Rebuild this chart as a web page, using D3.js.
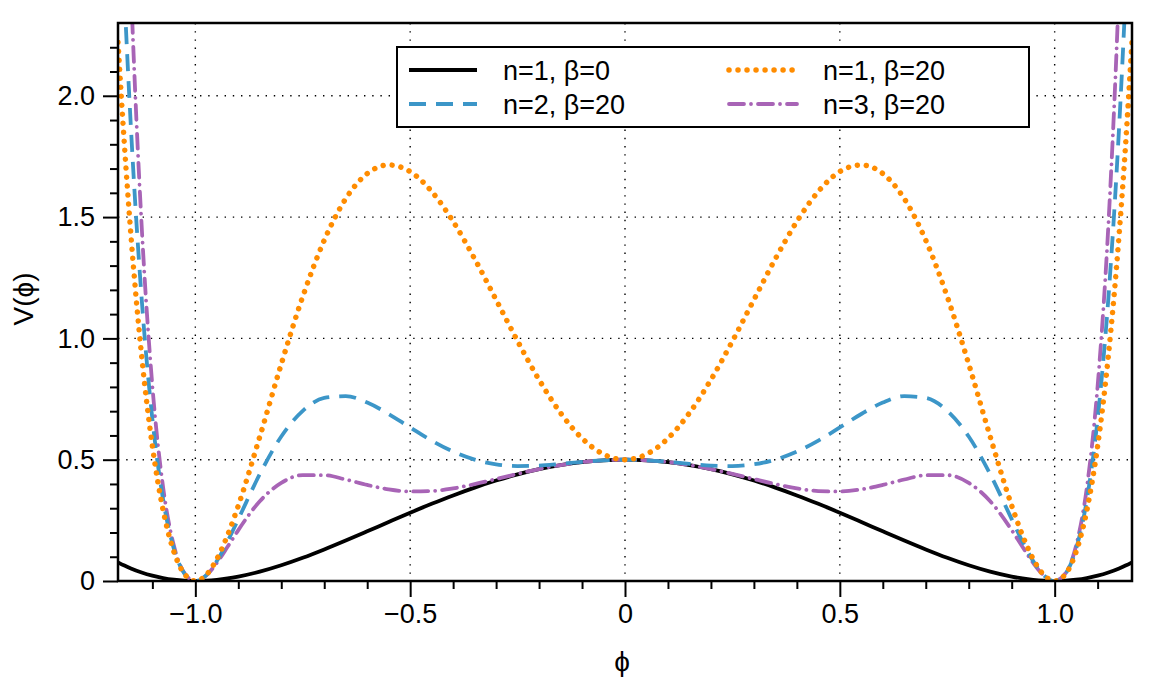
<!DOCTYPE html>
<html>
<head>
<meta charset="utf-8">
<script src="https://cdn.jsdelivr.net/npm/d3@7"></script>
<style>
  body { margin: 0; background: #fff; }
  text { font-family: "Liberation Sans", Arial, sans-serif; }
</style>
</head>
<body>
<div id="chart"></div>
<script>
// values
const phi = [-1.18, -1.165, -1.15, -1.125, -1.1, -1.075, -1.05, -1.025, -1, -0.975, -0.95, -0.925, -0.9,
  -0.85, -0.8, -0.75, -0.7, -0.65, -0.6, -0.55, -0.5, -0.45, -0.4, -0.35, -0.3, -0.25, -0.2, -0.15, -0.1, -0.05,
  0, 0.05, 0.1, 0.15, 0.2, 0.25, 0.3, 0.35, 0.4, 0.45, 0.5, 0.55, 0.6, 0.65, 0.7, 0.75, 0.8, 0.85,
  0.9, 0.925, 0.95, 0.975, 1, 1.025, 1.05, 1.075, 1.1, 1.125, 1.15, 1.165, 1.18];

const n1b0 = [0.077, 0.0638, 0.052, 0.0353, 0.0221, 0.0121, 0.0053, 0.0013, 0, 0.0012, 0.0048, 0.0104, 0.0181,
  0.0385, 0.0648, 0.0957, 0.1301, 0.1668, 0.2048, 0.2433, 0.2813, 0.318, 0.3528, 0.385, 0.4141, 0.4395, 0.4608, 0.4778, 0.4901, 0.4975,
  0.5, 0.4975, 0.4901, 0.4778, 0.4608, 0.4395, 0.4141, 0.385, 0.3528, 0.318, 0.2813, 0.2433, 0.2048, 0.1668, 0.1301, 0.0957, 0.0648, 0.0385,
  0.0181, 0.0104, 0.0048, 0.0012, 0, 0.0013, 0.0053, 0.0121, 0.0221, 0.0353, 0.052, 0.0638, 0.077];

const n1b20 = [2.221, 1.796, 1.4275, 0.928, 0.5557, 0.292, 0.1211, 0.0282, 0, 0.0244, 0.0905, 0.1888, 0.3105,
  0.5948, 0.8942, 1.1723, 1.4045, 1.5758, 1.6794, 1.7149, 1.6875, 1.6059, 1.4818, 1.3283, 1.1593, 0.9888, 0.8294, 0.6927, 0.5881, 0.5224,
  0.5, 0.5224, 0.5881, 0.6927, 0.8294, 0.9888, 1.1593, 1.3283, 1.4818, 1.6059, 1.6875, 1.7149, 1.6794, 1.5758, 1.4045, 1.1723, 0.8942, 0.5948,
  0.3105, 0.1888, 0.0905, 0.0244, 0, 0.0282, 0.1211, 0.292, 0.5557, 0.928, 1.4275, 1.796, 2.221];

const n2b20 = [3.062, 2.414, 1.871, 1.1655, 0.6677, 0.3355, 0.133, 0.0296, 0, 0.0233, 0.0822, 0.163, 0.2549,
  0.4404, 0.5956, 0.7013, 0.7546, 0.7621, 0.7356, 0.6884, 0.6328, 0.5788, 0.5334, 0.5005, 0.4811, 0.4738, 0.4755, 0.4826, 0.491, 0.4976,
  0.5, 0.4976, 0.491, 0.4826, 0.4755, 0.4738, 0.4811, 0.5005, 0.5334, 0.5788, 0.6328, 0.6884, 0.7356, 0.7621, 0.7546, 0.7013, 0.5956, 0.4404,
  0.2549, 0.163, 0.0822, 0.0233, 0, 0.0296, 0.133, 0.3355, 0.6677, 1.1655, 1.871, 2.414, 3.062];

const n3b20 = [4.234, 3.254, 2.458, 1.4657, 0.8033, 0.3859, 0.146, 0.031, 0, 0.0222, 0.0746, 0.141, 0.2099,
  0.3289, 0.4045, 0.4364, 0.4361, 0.4183, 0.3959, 0.3779, 0.3691, 0.3708, 0.3817, 0.3992, 0.4201, 0.4416, 0.4614, 0.4779, 0.4901, 0.4975,
  0.5, 0.4975, 0.4901, 0.4779, 0.4614, 0.4416, 0.4201, 0.3992, 0.3817, 0.3708, 0.3691, 0.3779, 0.3959, 0.4183, 0.4361, 0.4364, 0.4045, 0.3289,
  0.2099, 0.141, 0.0746, 0.0222, 0, 0.031, 0.146, 0.3859, 0.8033, 1.4657, 2.458, 3.254, 4.234];

const seriesLabels = ["n=1, β=0", "n=2, β=20", "n=1, β=20", "n=3, β=20"];

const xTicks = [-1.0, -0.5, 0, 0.5, 1.0];
const yTicks = [0, 0.5, 1.0, 1.5, 2.0];

const width = 1171;
const height = 686;
const margin = { top: 23, right: 39, bottom: 105, left: 118 };
const w = width - margin.left - margin.right;
const h = height - margin.top - margin.bottom;

const svg = d3.select("#chart").append("svg")
  .attr("width", width)
  .attr("height", height);

const g = svg.append("g").attr("transform", `translate(${margin.left},${margin.top})`);

const x = d3.scaleLinear().domain([-1.18, 1.18]).range([0, w]);
const y = d3.scaleLinear().domain([0, 2.3]).range([h, 0]);

const fmt = d => d === 0 ? "0" : d3.format(".1f")(d).replace("-", "\u2212");

// grid
g.append("g").selectAll("line").data(xTicks).join("line")
  .attr("x1", d => x(d)).attr("x2", d => x(d))
  .attr("y1", 0).attr("y2", h)
  .attr("stroke", "#000").attr("stroke-width", 1.4)
  .attr("stroke-dasharray", "1.4,6.8");
g.append("g").selectAll("line").data(yTicks.filter(d => d > 0)).join("line")
  .attr("x1", 0).attr("x2", w)
  .attr("y1", d => y(d)).attr("y2", d => y(d))
  .attr("stroke", "#000").attr("stroke-width", 1.4)
  .attr("stroke-dasharray", "1.4,6.8");

// curves
svg.append("defs").append("clipPath").attr("id", "clip")
  .append("rect").attr("width", w).attr("height", h);

const line = vals => d3.line()
  .x((d, i) => x(phi[i]))
  .y(d => y(d))
  .curve(d3.curveMonotoneX)(vals);

const styles = {
  "n=1, β=0":  { data: n1b0,  color: "#000000", dash: null,          width: 3.8, cap: "butt" },
  "n=2, β=20": { data: n2b20, color: "#3c96c8", dash: "17,10",       width: 3.8, cap: "butt" },
  "n=1, β=20": { data: n1b20, color: "#ff8c00", dash: "0.01,9",      width: 5.5, cap: "round" },
  "n=3, β=20": { data: n3b20, color: "#a864b6", dash: "15,7,0.01,7", width: 3.8, cap: "round" }
};

const curves = g.append("g").attr("clip-path", "url(#clip)");
["n=1, β=0", "n=3, β=20", "n=2, β=20", "n=1, β=20"].forEach(k => {
  const s = styles[k];
  curves.append("path")
    .attr("d", line(s.data))
    .attr("fill", "none")
    .attr("stroke", s.color)
    .attr("stroke-width", s.width)
    .attr("stroke-linecap", s.cap)
    .attr("stroke-dasharray", s.dash);
});

// axes
const xAxis = g.append("g").attr("transform", `translate(0,${h})`)
  .call(d3.axisBottom(x).tickValues(xTicks).tickFormat(fmt).tickSize(16).tickPadding(7));
const xMinor = g.append("g").attr("transform", `translate(0,${h})`)
  .call(d3.axisBottom(x).tickValues(d3.range(-11, 12).map(d => d / 10).filter(d => Math.round(d * 10) % 5 !== 0))
    .tickFormat("").tickSize(8));
const yAxis = g.append("g")
  .call(d3.axisLeft(y).tickValues(yTicks).tickFormat(fmt).tickSize(15).tickPadding(8));
const yMinor = g.append("g")
  .call(d3.axisLeft(y).tickValues(d3.range(1, 23).map(d => d / 10).filter(d => d * 10 % 5 !== 0))
    .tickFormat("").tickSize(8));

[xAxis, xMinor, yAxis, yMinor].forEach(a => {
  a.select(".domain").remove();
  a.selectAll("line").attr("stroke", "#000").attr("stroke-width", 2);
  a.selectAll("text").attr("font-size", 27).attr("fill", "#000")
    .attr("font-family", "'Liberation Sans', Arial, sans-serif");
});

// frame
g.append("rect").attr("width", w).attr("height", h)
  .attr("fill", "none").attr("stroke", "#000").attr("stroke-width", 2.5);

// axis labels
svg.append("text").attr("x", margin.left + x(0) - 3).attr("y", 671)
  .attr("text-anchor", "middle").attr("font-size", 28).text("ϕ");
svg.append("text")
  .attr("transform", `translate(33,${margin.top + h / 2 - 3}) rotate(-90)`)
  .attr("text-anchor", "middle").attr("font-size", 28).text("V(ϕ)");

// legend
const lg = svg.append("g").attr("transform", "translate(397,47)");
lg.append("rect").attr("width", 632).attr("height", 80)
  .attr("fill", "#fff").attr("stroke", "#000").attr("stroke-width", 2);
seriesLabels.forEach((k, i) => {
  const s = styles[k];
  const col = Math.floor(i / 2), row = i % 2;
  const ox = 12 + col * 320, oy = 23 + row * 34;
  lg.append("line")
    .attr("x1", ox).attr("x2", ox + 68).attr("y1", oy).attr("y2", oy)
    .attr("stroke", s.color).attr("stroke-width", s.width)
    .attr("stroke-linecap", s.cap).attr("stroke-dasharray", s.dash);
  lg.append("text").attr("x", ox + 94).attr("y", oy + 10)
    .attr("font-size", 27).text(k);
});
</script>
</body>
</html>
